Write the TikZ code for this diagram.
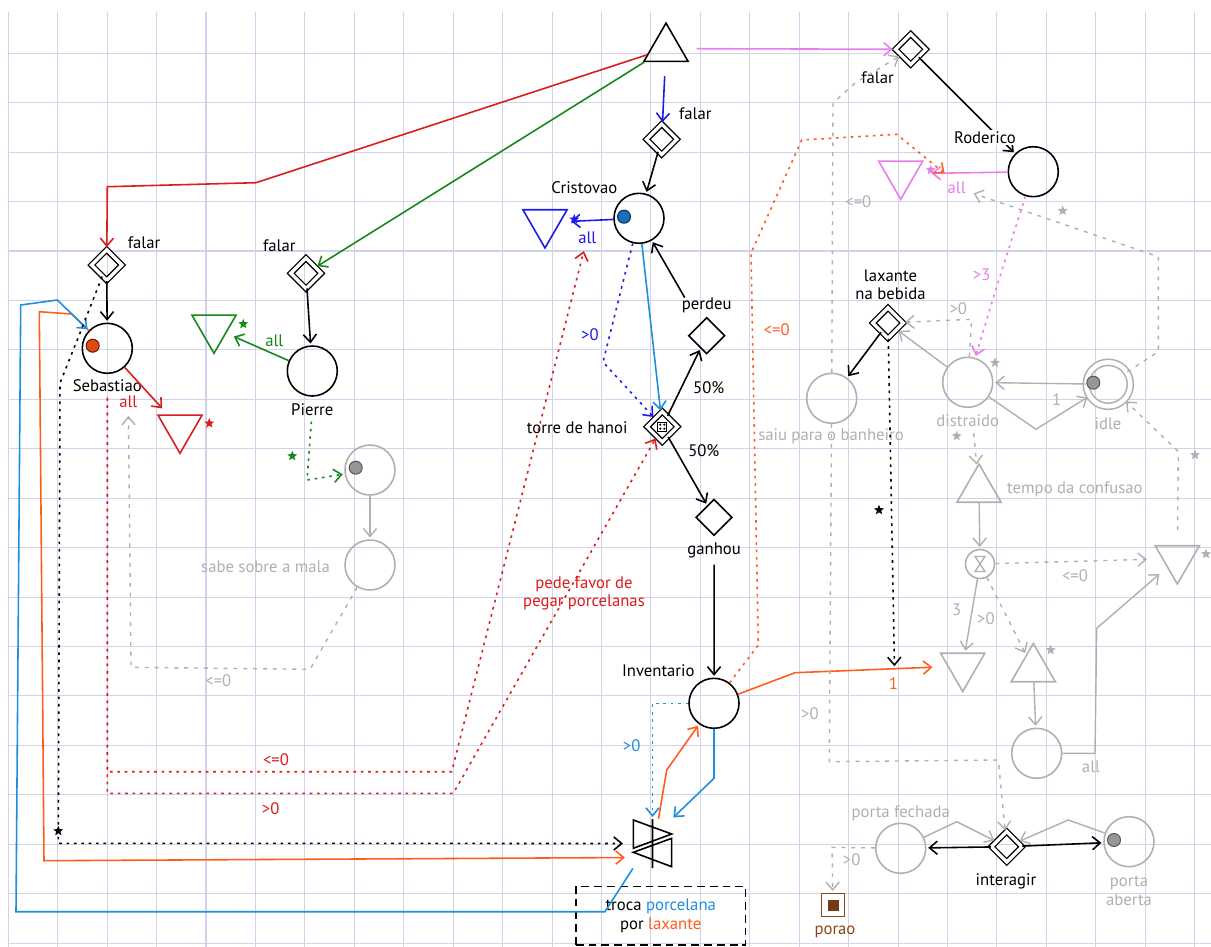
\documentclass[tikz,border=0pt]{standalone}
\usepackage{fontspec}
\setmainfont{PT Sans}
\usetikzlibrary{shapes.geometric,arrows.meta}

\definecolor{gridc}{RGB}{210,210,236}
\definecolor{mred}{RGB}{220,28,28}
\definecolor{mgreen}{RGB}{24,136,24}
\definecolor{mblue}{RGB}{26,26,236}
\definecolor{mcyan}{RGB}{30,142,222}
\definecolor{morange}{RGB}{255,92,30}
\definecolor{mpink}{RGB}{236,124,236}
\definecolor{mgray}{RGB}{176,176,176}
\definecolor{mbrown}{RGB}{140,70,24}
\definecolor{tokred}{RGB}{224,72,16}
\definecolor{tokblue}{RGB}{22,112,190}
\definecolor{tokgray}{RGB}{150,150,150}

\tikzset{
  every node/.style={font=\fontsize{9.5}{10.5}\selectfont},
  gridline/.style={gridc,line width=0.6pt},
  pool/.style={circle,draw,line width=0.9pt,minimum size=1cm,inner sep=0pt},
  gate/.style={diamond,draw,double,double distance=1.9pt,line width=0.75pt,minimum size=0.62cm,inner sep=0pt},
  chance/.style={diamond,draw,line width=0.9pt,minimum size=0.73cm,inner sep=0pt},
  drain/.style={regular polygon,regular polygon sides=3,shape border rotate=180,draw,line width=0.9pt,minimum size=1.02cm,inner sep=0pt},
  source/.style={regular polygon,regular polygon sides=3,draw,line width=0.9pt,minimum size=1.02cm,inner sep=0pt},
  token/.style={circle,draw,line width=0.6pt,minimum size=0.26cm,inner sep=0pt},
  pin/.style={star,star points=5,star point ratio=2.3,fill,inner sep=0pt,minimum size=0.21cm},
  flow/.style={line width=0.9pt,-{Straight Barb[length=4.5pt,width=7.5pt]},shorten >=1pt},
  state/.style={flow,dash pattern=on 1.5pt off 2.7pt},
  faded/.style={draw=mgray,text=mgray},
  lazy/.style={mgray,line width=0.8pt},
  lazydot/.style={lazy,dash pattern=on 2.2pt off 3.4pt},
}

\begin{document}
\begin{tikzpicture}[x=0.02cm,y=-0.02cm]
\fill[white] (0,0) rectangle (1211,947);
\useasboundingbox (0,0) rectangle (1211,947);
\foreach \i in {0,...,24}
  \draw[gridline] ({8.3+49.43*\i},12) -- ({8.3+49.43*\i},947);
\foreach \j in {0,...,18}
  \draw[gridline] (8.3,{53.3+49.43*\j}) -- (1211,{53.3+49.43*\j});

% sources, gates and players
\node[source] (src) at (666,48.6) {};
\node[gate] (gseb) at (106.7,265) {};
\node (tgseb) at (144,243) {falar};
\node[gate] (gpie) at (306,273.3) {};
\node (tgpie) at (279.3,246) {falar};
\node[gate] (gcri) at (661.7,139.3) {};
\node (tgcri) at (695.3,113.3) {falar};
\node[gate] (grod) at (910.7,49.3) {};
\node (tgrod) at (877.5,78) {falar};

\node[pool] (seb) at (107.3,348.3) {};
\node[token,fill=tokred,draw=tokred!45!black] (kseb) at (92.7,345.7) {};
\node (tseb) at (107.3,385.7) {Sebastiao};
\node[pool] (pie) at (312.3,371) {};
\node (tpie) at (312.3,409.3) {Pierre};
\node[pool] (cri) at (639,218.3) {};
\node[token,fill=tokblue,draw=tokblue!45!black] (kcri) at (624,216.7) {};
\node (tcri) at (584.3,187.3) {Cristovao};
\node[pool] (rod) at (1033.3,171.7) {};
\node[pool] (inv) at (714,703.3) {};
\node (tinv) at (658.3,670.7) {Inventario};

\node[drain,mred] (dseb) at (180,427.8) {};
\node[pin,mred] (sseb) at (209.3,423.3) {};
\node[mred] (tdseb) at (128.3,402) {all};
\node[drain,mgreen] (dpie) at (214,327.8) {};
\node[pin,mgreen] (spie) at (243.3,324) {};
\node[mgreen] (tdpie) at (274.3,340.7) {all};
\node[drain,mblue] (dcri) at (545,222.5) {};
\node[pin,mblue] (scri) at (574.3,219.3) {};
\node[mblue] (tdcri) at (587.3,237.3) {all};
\node[drain,mpink] (drod) at (900.7,173.8) {};
\node[pin,mpink] (srod) at (930.7,170) {};
\node[mpink] (tdrod) at (956.7,187.7) {all};

% torre de hanoi
\node[gate] (gtor) at (662.3,426.7) {};
\draw[line width=0.6pt] ([shift={(-0.09cm,-0.09cm)}]gtor.center) rectangle ([shift={(0.09cm,0.09cm)}]gtor.center);
\foreach \dx/\dy in {-0.04/-0.04,-0.04/0.04,0.04/-0.04,0.04/0.04}
  \fill ([shift={(\dx cm,\dy cm)}]gtor.center) circle[radius=0.7pt];
\node (tgtor) at (577.2,427.3) {torre de hanoi};
\node[chance] (per) at (706.7,335.7) {};
\node (tper) at (706.7,305) {perdeu};
\node[chance] (gan) at (714,517.3) {};
\node (tgan) at (714.2,550.7) {ganhou};
\node (tpa) at (708.7,387.3) {50\%};
\node (tpb) at (703.8,450.7) {50\%};
\node[mred,align=center] (tfav) at (584,593.3) {pede favor de\\pegar porcelanas};

% troca
\node[minimum width=0.77cm,minimum height=0.98cm,inner sep=0pt] (troca) at (652.5,843.5) {};
\draw[line width=0.9pt,shift={(troca.center)}] (-19.2,-23.5) -- (-19.2,4.8) -- (19.2,-9.5) -- cycle
  (19.2,-5.2) -- (19.2,23.2) -- (-19.2,8.8) -- cycle (0,-24.5) -- (0,24.5);
\node[draw,dash pattern=on 4.5pt off 2.8pt,line width=0.9pt,minimum width=3.4cm,minimum height=1.17cm,align=center] (bx) at (660.7,915.8)
  {troca \textcolor{mcyan}{porcelana}\\por \textcolor{morange}{laxante}};

% Pierre side
\node[pool,faded] (knw) at (370,470) {};
\node[token,fill=tokgray,draw=tokgray!60!black] (kknw) at (355.7,467.7) {};
\node[pool,faded] (sab) at (370,565) {};
\node[anchor=east,mgray] (tsab) at (336,566.7) {sabe sobre a mala};
\node[pin,mgreen] (spk) at (292.3,456) {};

% right side
\node[gate] (glax) at (888,323) {};
\node[align=center] (tglax) at (890.5,285) {laxante\\na bebida};
\node[pool,faded] (ban) at (831.7,398.3) {};
\node[mgray] (tban) at (831,436.7) {saiu para o banheiro};
\node[pool,faded] (dis) at (967.7,382.3) {};
\node[mgray] (tdis) at (967.7,421) {distraido};
\node[pin,mgray] (sdis) at (995,362.7) {};
\node[pool,faded,minimum size=0.88cm,double,double distance=0.09cm] (idle) at (1108.3,384.3) {};
\node[token,fill=tokgray,draw=tokgray!60!black] (kidle) at (1093.3,382.7) {};
\node[mgray] (tidle) at (1108,424) {idle};
\node[source,faded] (stc) at (979,489.5) {};
\node[anchor=west,mgray] (tstc) at (1001,489.3) {tempo da confusao};
\node[pool,faded,minimum size=0.58cm] (dly) at (980,564) {};
\draw[mgray,line width=0.75pt,shift={(dly.center)}] (-5,-7.5) -- (5,-7.5) -- (-5,7.5) -- (5,7.5) -- cycle;
\node[drain,faded] (dinv) at (962.7,666) {};
\node[source,faded] (sup) at (1033.3,669) {};
\node[pin,mgray] (ssup) at (1050.7,650) {};
\node[drain,faded] (dcnf) at (1177.3,558.5) {};
\node[pin,mgray] (sdcnf) at (1206,554) {};
\node[pool,faded] (aux) at (1036.7,753.3) {};
\node[pool,faded] (pfec) at (900.7,848.3) {};
\node[mgray] (tpfec) at (900.7,813.3) {porta fechada};
\node[gate] (gint) at (1006.7,846.7) {};
\node (tgint) at (1006,881) {interagir};
\node[pool,faded] (pabe) at (1129,841.7) {};
\node[token,fill=tokgray,draw=tokgray!60!black] (kpabe) at (1114,840) {};
\node[mgray,align=center] (tpabe) at (1129,891) {porta\\aberta};
\node[draw=mbrown,line width=0.9pt,minimum size=0.46cm,inner sep=0pt] (por) at (833,905) {};
\fill[mbrown!85!black] (por.center) ++(-0.11cm,-0.11cm) rectangle ++(0.22cm,0.22cm);
\node[mbrown] (tpor) at (835,931.7) {porao};

\coordinate (lxhit) at (894.5,668);
\coordinate (pkhit) at (946,174.5);

% resource connections
\draw[flow,mred] (src) -- (256,182.7) -- (107.3,186.7) -- (gseb);
\draw[flow,mgreen] (src) -- (gpie);
\draw[flow,mblue,shorten <=0.28cm] (src) -- (gcri);
\draw[flow,mpink,shorten <=0.3cm] (src) -- (grod);
\draw[flow] (gseb) -- (seb);
\draw[flow] (gpie) -- (pie);
\draw[flow] (gcri) -- (cri);
\draw[flow] (grod) -- (rod);
\draw[flow,mred,shorten >=0.16cm] (seb) -- (dseb);
\draw[flow,mgreen,shorten >=0.16cm] (pie) -- (dpie);
\draw[flow,mblue,shorten >=0.2cm] (cri) -- (dcri);
\draw[flow,mpink,shorten >=0.3cm] (rod) -- (drod);
\draw[flow,mcyan] (cri) -- (gtor);
\draw[flow] (gtor) -- (per);
\draw[flow] (gtor) -- (gan);
\draw[flow,shorten <=0.6cm] (per) -- (cri);
\draw[flow] (tgan) -- (inv);
\draw[flow,morange,shorten >=0.16cm] (seb) -- (71.7,314) -- (39.3,311.7) -- (44,860.7) -- ([yshift=-0.28cm]troca.west);
\draw[flow,mcyan] (troca.south west) -- (605,911.7) -- (16,911.7) -- (20.7,305) -- (57.3,300) -- (seb);
\draw[flow,morange] ([xshift=0.12cm]troca.north) -- (666.7,770) -- (inv);
\draw[flow,mcyan] (inv.south) -- (714,778.3) -- (troca.north east);
\draw[flow,morange,shorten >=0.3cm] (inv) -- (795,672.7) -- (dinv);
\draw[flow] (glax) -- (ban);
\draw[flow] (gint) -- (pfec);
\draw[flow] (gint) -- (pabe);
\draw[flow,lazy] (knw) -- (sab);
\draw[flow,lazy] (dis) -- (glax);
\draw[flow,lazy] (idle) -- (dis);
\draw[flow,lazy] (dis) -- (1036,429.3) -- (idle);
\draw[flow,lazy] (stc) -- (dly);
\draw[flow,lazy] (dly) -- (dinv);
\draw[flow,lazy] (sup) -- (aux);
\draw[flow,lazy,shorten >=0.2cm] (aux) -- (1095,753.3) -- (1096.7,628.3) -- (dcnf);
\draw[flow,lazy] (pfec) -- (956.7,821.7) -- (gint);
\draw[flow,lazy] (pabe) -- (1068.3,820) -- (gint);

% state connections
\draw[state,shorten >=0.2cm] (gseb) -- (80,333) -- (60,383) -- (58.3,843.3) -- (troca);
\draw[state] (glax) -- (lxhit);
\draw[state,mred] (tseb) -- (107.3,771.7) -- (451.7,771.7) -- (tdcri);
\draw[state,mred] (tseb) -- (107.3,793.3) -- (453.3,793.3) -- (gtor);
\draw[state,mblue] (cri) -- (603,362) -- (gtor);
\draw[state,mcyan] (inv.west) -- (troca.north |- inv.west) -- (troca.north);
\draw[state,morange] (inv) -- (758.3,645) -- (751,253.3) -- (801.7,140) -- (896.7,134.3) -- (pkhit);
\draw[state,mpink] (rod) -- (996.7,286.7) -- (dis);
\draw[state,mgreen] (tpie) -- (307,480) -- (knw);
\draw[state,lazydot] (sab) -- (310,669.3) -- (131,667.3) -- (tdseb);
\draw[state,lazydot] (ban) -- (833,103) -- (855,83) -- (grod);
\draw[state,lazydot] (ban) -- (829.3,761.7) -- (998.3,760) -- (gint);
\draw[state,lazydot] (dis) -- (971.7,319.3) -- (glax);
\draw[state,lazydot] ([xshift=0.12cm]tdis.south) -- (stc);
\draw[state,lazydot] (dly) -- (sup);
\draw[state,lazydot,shorten >=0.3cm] (dly) -- (dcnf);
\draw[state,lazydot,shorten <=0.3cm] (dcnf) -- (1178.3,451.7) -- (idle);
\draw[state,lazydot] (idle) -- (1158.3,351.7) -- (1158.3,256.7) -- (tdrod);
\draw[state,lazydot] (pfec) -- (832,847.3) -- (por);

% connection labels
\node[mred] (lra) at (276,760) {<=0};
\node[mred] (lrb) at (270.7,808.3) {>0};
\node[mgray] (lsab) at (218.3,681) {<=0};
\node[mblue] (lcri) at (590,335) {>0};
\node[mcyan] (linv) at (631.7,746) {>0};
\node[morange] (linvo) at (776.7,329.3) {<=0};
\node[morange] (lone) at (893.3,683.3) {1};
\node[pin] (slax) at (879,510) {};
\node[pin] (sgseb) at (58.3,831) {};
\node[mpink] (lrod) at (981.7,275) {>3};
\node[mgray] (lbana) at (858.3,201.7) {<=0};
\node[mgray] (lbanb) at (810,713.3) {>0};
\node[mgray] (ldis) at (958.3,308.3) {>0};
\node[mgray] (lidle) at (1056.7,400) {1};
\node[pin,mgray] (sdisb) at (956.7,436) {};
\node[mgray] (ldlya) at (956.7,610) {3};
\node[mgray] (ldlyb) at (986,618.3) {>0};
\node[mgray] (ldlyc) at (1075,575.7) {<=0};
\node[mgray] (laux) at (1091,767) {all};
\node[pin,mgray] (sidle) at (1195,455) {};
\node[pin,mgray] (srodb) at (1062.7,210.7) {};
\node[mgray] (lpfec) at (851.7,860) {>0};
\node[fill=white,inner sep=1pt] (trod) at (985,137.7) {Roderico};
\end{tikzpicture}
\end{document}
